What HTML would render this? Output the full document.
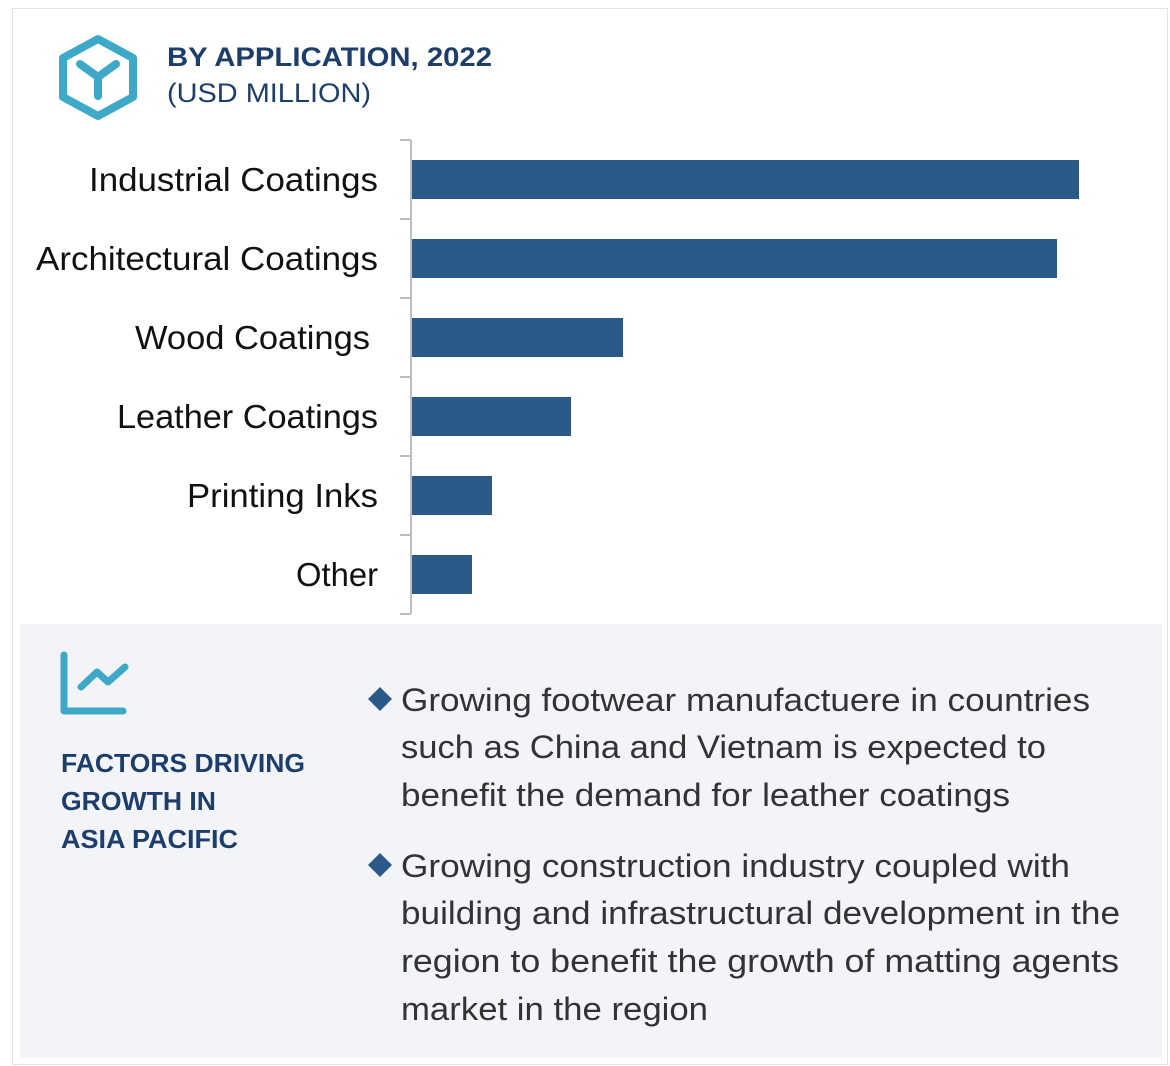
<!DOCTYPE html>
<html><head><meta charset="utf-8"><style>
html,body{margin:0;padding:0;background:#fff;}
svg{display:block;}
text{font-family:"Liberation Sans",Arial,sans-serif;}
</style></head><body>
<svg width="1170" height="1066" viewBox="0 0 1170 1066" xmlns="http://www.w3.org/2000/svg">
<rect x="0" y="0" width="1170" height="1066" fill="#fff"/>
<rect x="12.5" y="8.5" width="1155" height="1056" fill="none" stroke="#e3e3e3" stroke-width="1"/>
<!-- hex icon -->
<polygon points="98,39 133,58 133,97 98,116 63,97 63,58" fill="none" stroke="#3ea8c8" stroke-width="8" stroke-linejoin="round"/>
<path d="M80,64 L98,77 L116,64 M98,77 L98,96" fill="none" stroke="#3ea8c8" stroke-width="8" stroke-linecap="round" stroke-linejoin="round"/>
<text x="167" y="66" font-size="27" font-weight="bold" fill="#1d3d6b" textLength="325" lengthAdjust="spacingAndGlyphs">BY APPLICATION, 2022</text>
<text x="167" y="102" font-size="27" fill="#1d3d6b" textLength="204" lengthAdjust="spacingAndGlyphs">(USD MILLION)</text>
<!-- axis -->
<g stroke="#bdbdbd" stroke-width="2" fill="none">
<line x1="411" y1="140" x2="411" y2="614"/>
<line x1="400" y1="140" x2="411" y2="140"/>
<line x1="400" y1="219" x2="411" y2="219"/>
<line x1="400" y1="298" x2="411" y2="298"/>
<line x1="400" y1="377" x2="411" y2="377"/>
<line x1="400" y1="456" x2="411" y2="456"/>
<line x1="400" y1="535" x2="411" y2="535"/>
<line x1="400" y1="614" x2="411" y2="614"/>
</g>
<g fill="#2c5a88">
<rect x="412" y="160" width="667" height="39"/>
<rect x="412" y="239" width="645" height="39"/>
<rect x="412" y="318" width="211" height="39"/>
<rect x="412" y="397" width="159" height="39"/>
<rect x="412" y="476" width="80" height="39"/>
<rect x="412" y="555" width="60" height="39"/>
</g>
<g font-size="33" fill="#111">
<text x="89" y="191" textLength="289" lengthAdjust="spacingAndGlyphs">Industrial Coatings</text>
<text x="36" y="270" textLength="342" lengthAdjust="spacingAndGlyphs">Architectural Coatings</text>
<text x="135" y="349" textLength="235" lengthAdjust="spacingAndGlyphs">Wood Coatings</text>
<text x="117" y="428" textLength="261" lengthAdjust="spacingAndGlyphs">Leather Coatings</text>
<text x="187" y="507" textLength="191" lengthAdjust="spacingAndGlyphs">Printing Inks</text>
<text x="296" y="586" textLength="82" lengthAdjust="spacingAndGlyphs">Other</text>
</g>
<!-- panel -->
<rect x="20" y="624" width="1142" height="434" fill="#f2f4f8"/>
<path d="M64,655 L64,711 L123,711" fill="none" stroke="#3ea8c8" stroke-width="7" stroke-linecap="round" stroke-linejoin="round"/>
<path d="M81,687 L97,672 L108,682 L125,667" fill="none" stroke="#3ea8c8" stroke-width="7" stroke-linecap="round" stroke-linejoin="round"/>
<g font-size="26" font-weight="bold" fill="#1d3d6b">
<text x="61" y="772" textLength="244" lengthAdjust="spacingAndGlyphs">FACTORS DRIVING</text>
<text x="61" y="810" textLength="155" lengthAdjust="spacingAndGlyphs">GROWTH IN</text>
<text x="61" y="848" textLength="177" lengthAdjust="spacingAndGlyphs">ASIA PACIFIC</text>
</g>
<polygon points="380,687 392,699 380,711 368,699" fill="#2c5a88"/>
<polygon points="380,853 392,865 380,877 368,865" fill="#2c5a88"/>
<g font-size="32" fill="#333">
<text x="401" y="711" textLength="689" lengthAdjust="spacingAndGlyphs">Growing footwear manufactuere in countries</text>
<text x="401" y="758" textLength="645" lengthAdjust="spacingAndGlyphs">such as China and Vietnam is expected to</text>
<text x="401" y="806" textLength="609" lengthAdjust="spacingAndGlyphs">benefit the demand for leather coatings</text>
<text x="401" y="877" textLength="669" lengthAdjust="spacingAndGlyphs">Growing construction industry coupled with</text>
<text x="401" y="924" textLength="719" lengthAdjust="spacingAndGlyphs">building and infrastructural development in the</text>
<text x="401" y="972" textLength="718" lengthAdjust="spacingAndGlyphs">region to benefit the growth  of matting agents</text>
<text x="401" y="1020" textLength="307" lengthAdjust="spacingAndGlyphs">market in the region</text>
</g>
</svg>
</body></html>
